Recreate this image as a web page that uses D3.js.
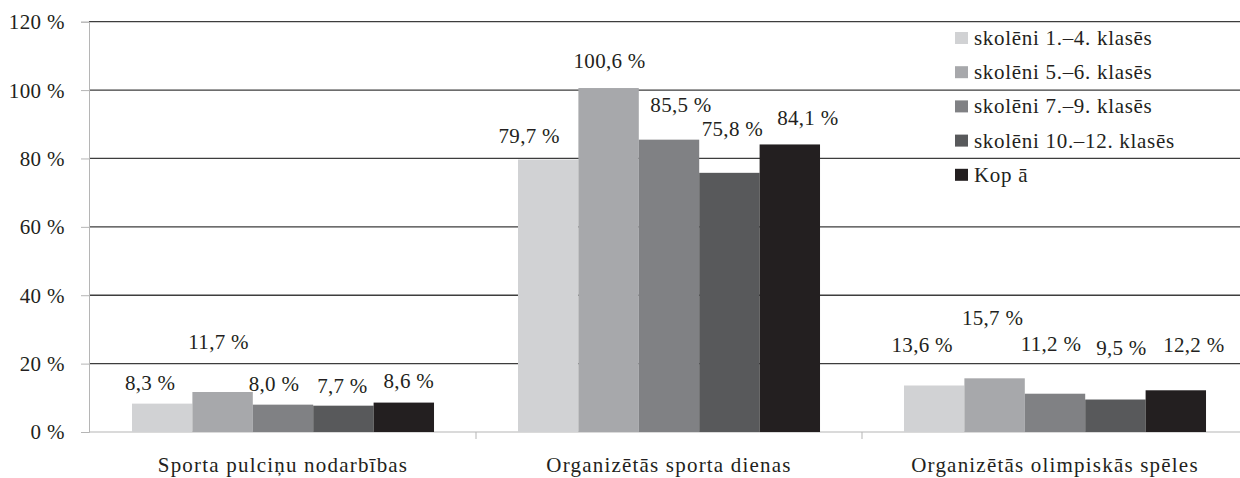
<!DOCTYPE html>
<html>
<head>
<meta charset="utf-8">
<script src="https://cdn.jsdelivr.net/npm/d3@7"></script>
<style>
  html, body { margin: 0; padding: 0; background: #fff; }
  svg { display: block; }
  text { font-family: "Liberation Serif", serif; fill: #231f20; }
</style>
</head>
<body>
<div id="chart"></div>
<script>
// categories along the x axis
var categories = ["Sporta pulciņu nodarbības", "Organizētās sporta dienas", "Organizētās olimpiskās spēles"];

// series names (legend) and their values, one per category
var seriesNames = ["skolēni 1.–4. klasēs", "skolēni 5.–6. klasēs", "skolēni 7.–9. klasēs", "skolēni 10.–12. klasēs", "Kop ā"];
var grades1to4   = [8.3, 79.7, 13.6];
var grades5to6   = [11.7, 100.6, 15.7];
var grades7to9   = [8.0, 85.5, 11.2];
var grades10to12 = [7.7, 75.8, 9.5];
var total        = [8.6, 84.1, 12.2];

var yTicks = [0, 20, 40, 60, 80, 100, 120];

var seriesValues = [grades1to4, grades5to6, grades7to9, grades10to12, total];
var colors = ["#d1d2d4", "#a7a8ab", "#808184", "#58595b", "#231f20"];

// hand-placed data labels in the original (dx, dy from default spot), per series then category
var labelNudge = [
    [[-12, 0], [-19, -2], [-12, -19]],
    [[-4, -29], [1, -6], [-2, -39]],
    [[-9, 0], [12, -14], [-4, -29]],
    [[-1, 1], [3, -23], [6, -31]],
    [[5, -1], [18, -5], [18, -24]]
];

var width = 1240,
    height = 478;

var svg = d3.select("#chart")
    .append("svg")
    .attr("width", width)
    .attr("height", height);

var x0 = d3.scaleBand()
    .domain(categories)
    .range([90, 1248])
    .padding(0);

var x1 = d3.scaleBand()
    .domain(d3.range(seriesNames.length))
    .range([0, x0.bandwidth()])
    .paddingInner(0)
    .paddingOuter(0.695);

var y = d3.scaleLinear()
    .domain([0, 120])
    .range([432, 21.7]);

// gridlines
svg.append("g")
    .selectAll("line")
    .data(yTicks.slice(1))
    .enter().append("line")
    .attr("x1", 89)
    .attr("x2", width)
    .attr("y1", function(d) { return y(d); })
    .attr("y2", function(d) { return y(d); })
    .style("stroke", "#3d3d3d")
    .style("stroke-width", 1.3);

// y axis
var yAxis = d3.axisLeft(y)
    .tickValues(yTicks)
    .tickSize(8)
    .tickPadding(16)
    .tickFormat(function(d) { return d + " %"; });

var gy = svg.append("g")
    .attr("transform", "translate(89,0)")
    .call(yAxis);
gy.select(".domain").style("stroke", "#b5b5b5");
gy.selectAll(".tick line").style("stroke", "#b5b5b5");
gy.selectAll(".tick text")
    .style("font-family", "'Liberation Serif', serif")
    .style("font-size", "21px")
    .style("letter-spacing", "0.4px")
    .style("fill", "#231f20")
    .attr("dy", "0.33em");

// x axis
svg.append("line")
    .attr("x1", 89)
    .attr("x2", width)
    .attr("y1", y(0))
    .attr("y2", y(0))
    .style("stroke", "#b5b5b5");

svg.append("g")
    .selectAll("line")
    .data(categories.slice(1))
    .enter().append("line")
    .attr("x1", function(d) { return x0(d); })
    .attr("x2", function(d) { return x0(d); })
    .attr("y1", y(0))
    .attr("y2", y(0) + 7)
    .style("stroke", "#b5b5b5");

svg.append("g")
    .selectAll("text")
    .data(categories)
    .enter().append("text")
    .attr("x", function(d) { return x0(d) + x0.bandwidth() / 2; })
    .attr("y", 472)
    .attr("text-anchor", "middle")
    .style("font-size", "21px")
    .style("letter-spacing", "1.2px")
    .text(function(d) { return d; });

// bars
var groups = svg.selectAll("g.series")
    .data(seriesValues)
    .enter().append("g")
    .attr("class", "series")
    .style("fill", function(d, i) { return colors[i]; });

groups.each(function(values, si) {
    var g = d3.select(this);
    g.selectAll("rect")
        .data(values)
        .enter().append("rect")
        .attr("x", function(d, ci) { return x0(categories[ci]) + x1(si); })
        .attr("width", x1.bandwidth())
        .attr("y", function(d) { return y(d); })
        .attr("height", function(d) { return y(0) - y(d); });

    g.selectAll("text")
        .data(values)
        .enter().append("text")
        .attr("x", function(d, ci) {
            return x0(categories[ci]) + x1(si) + x1.bandwidth() / 2 + labelNudge[si][ci][0];
        })
        .attr("y", function(d, ci) { return y(d) - 14 + labelNudge[si][ci][1]; })
        .attr("text-anchor", "middle")
        .style("font-size", "21px")
        .style("letter-spacing", "0.3px")
        .style("fill", "#231f20")
        .text(function(d) { return d.toFixed(1).replace(".", ",") + " %"; });
});

// legend
var legend = svg.append("g")
    .selectAll("g")
    .data(seriesNames)
    .enter().append("g")
    .attr("transform", function(d, i) { return "translate(955," + (45 + i * 34.2) + ")"; });

legend.append("rect")
    .attr("x", 0)
    .attr("y", -13)
    .attr("width", 13)
    .attr("height", 12)
    .style("fill", function(d, i) { return colors[i]; });

legend.append("text")
    .attr("x", 19)
    .attr("y", 0)
    .style("font-size", "21px")
    .style("letter-spacing", "0.7px")
    .text(function(d) { return d; });
</script>
</body>
</html>
